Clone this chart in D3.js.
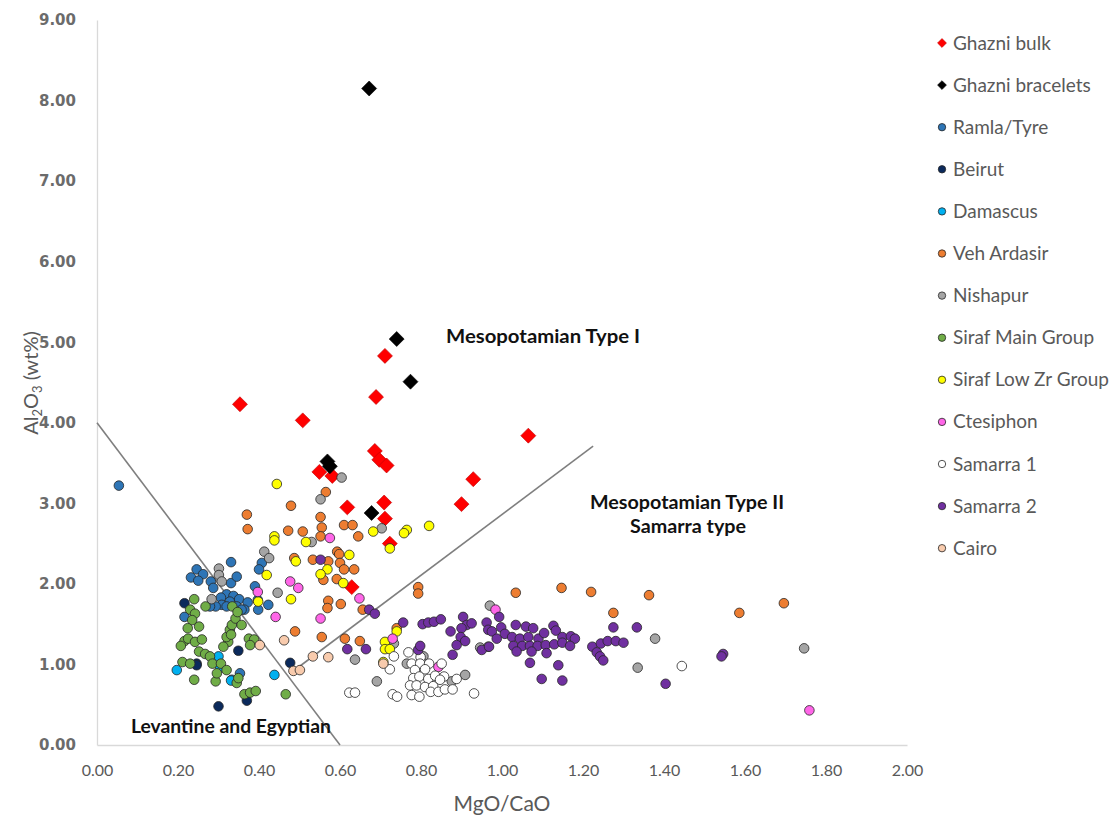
<!DOCTYPE html>
<html>
<head>
<meta charset="utf-8">
<script src="https://cdn.jsdelivr.net/npm/d3@7"></script>
<style>
  html, body { margin: 0; padding: 0; background: #fff; }
  svg { display: block; }
</style>
</head>
<body>
<svg id="chart" width="1110" height="816"></svg>
<script>
// ---- data: [MgO/CaO, Al2O3 wt%] ----
const ghazniBulk = [[0.353,4.23],[0.508,4.03],[0.549,3.39],[0.581,3.34],[0.618,2.95],[0.629,1.96],[0.686,3.65],[0.689,4.32],[0.697,3.54],[0.709,3.01],[0.711,4.83],[0.711,2.81],[0.715,3.47],[0.723,2.50],[0.900,2.99],[0.929,3.30],[1.065,3.84]];
const ghazniBracelets = [[0.672,8.15],[0.740,5.04],[0.774,4.51],[0.569,3.52],[0.575,3.46],[0.678,2.88]];
const ramlaTyre = [[0.054,3.22],[0.331,2.27],[0.246,2.18],[0.262,2.12],[0.232,2.08],[0.250,2.04],[0.281,2.03],[0.287,1.95],[0.331,2.01],[0.345,2.09],[0.407,2.26],[0.400,2.18],[0.390,1.97],[0.320,1.87],[0.306,1.83],[0.337,1.85],[0.351,1.81],[0.372,1.77],[0.364,1.68],[0.328,1.78],[0.308,1.74],[0.293,1.72],[0.279,1.72],[0.320,1.72],[0.345,1.72],[0.357,1.68],[0.398,1.68],[0.423,1.74],[0.397,1.80],[0.216,1.59],[0.353,0.89],[0.333,0.81]];
const beirut = [[0.216,1.76],[0.349,1.17],[0.246,1.01],[0.246,0.99],[0.477,1.02],[0.300,0.48],[0.370,0.55]];
const damascus = [[0.197,0.93],[0.300,1.10],[0.304,0.97],[0.331,0.80],[0.438,0.87]];
const vehArdasir = [[0.370,2.86],[0.372,2.68],[0.472,2.66],[0.487,2.32],[0.489,1.41],[0.479,2.97],[0.565,3.14],[0.552,2.83],[0.610,2.73],[0.631,2.73],[0.555,2.70],[0.508,2.65],[0.552,2.59],[0.645,2.59],[0.593,2.40],[0.598,2.37],[0.533,2.30],[0.571,2.28],[0.600,2.26],[0.635,2.18],[0.610,2.18],[0.559,2.05],[0.592,2.06],[0.793,1.96],[0.793,1.88],[0.571,1.79],[0.569,1.70],[0.602,1.75],[0.656,1.68],[0.555,1.34],[0.612,1.32],[0.649,1.29],[0.740,1.45],[1.034,1.89],[1.147,1.95],[1.220,1.90],[1.363,1.86],[1.275,1.64],[1.586,1.64],[1.696,1.76]];
const nishapur = [[0.413,2.40],[0.425,2.32],[0.301,2.19],[0.301,2.11],[0.308,2.03],[0.283,1.81],[0.446,1.89],[0.604,3.32],[0.552,3.05],[0.703,2.69],[0.530,2.52],[0.637,1.06],[0.733,1.26],[0.765,1.01],[0.806,1.10],[0.876,0.79],[0.909,0.87],[0.946,1.21],[0.966,1.22],[0.807,1.01],[0.691,0.79],[0.970,1.73],[1.378,1.32],[1.335,0.96],[1.746,1.20]];
const sirafMain = [[0.240,1.81],[0.230,1.68],[0.242,1.63],[0.235,1.55],[0.268,1.72],[0.334,1.72],[0.224,1.45],[0.252,1.47],[0.216,1.29],[0.225,1.32],[0.242,1.28],[0.259,1.31],[0.207,1.23],[0.252,1.16],[0.267,1.13],[0.279,1.10],[0.285,1.01],[0.306,1.01],[0.320,0.93],[0.324,1.28],[0.312,1.22],[0.320,1.34],[0.328,1.43],[0.333,1.49],[0.342,1.57],[0.347,1.65],[0.357,1.49],[0.331,1.37],[0.375,1.32],[0.388,1.31],[0.378,1.24],[0.211,1.03],[0.230,1.01],[0.240,0.81],[0.293,0.79],[0.296,0.89],[0.345,0.77],[0.349,0.83],[0.364,0.63],[0.378,0.65],[0.392,0.67],[0.466,0.63]];
const sirafLowZr = [[0.438,2.59],[0.438,2.54],[0.419,2.11],[0.398,1.78],[0.479,1.81],[0.444,3.24],[0.820,2.72],[0.765,2.67],[0.758,2.63],[0.682,2.65],[0.516,2.52],[0.491,2.28],[0.569,2.18],[0.623,2.36],[0.552,2.12],[0.608,2.01],[0.740,1.41],[0.711,1.28],[0.711,1.19],[0.723,1.19],[0.707,1.03],[0.723,2.44]];
const ctesiphon = [[0.397,1.90],[0.477,2.03],[0.441,1.59],[0.575,2.57],[0.497,1.95],[0.648,1.82],[0.552,1.57],[0.730,1.32],[0.843,0.97],[0.984,1.68],[1.759,0.43]];
const samarra1 = [[0.733,1.10],[0.769,1.15],[0.799,1.09],[0.777,1.01],[0.798,1.01],[0.820,1.01],[0.851,1.01],[0.723,0.94],[0.785,0.93],[0.810,0.94],[0.781,0.83],[0.796,0.85],[0.818,0.82],[0.835,0.86],[0.857,0.85],[0.847,0.81],[0.888,0.82],[0.773,0.74],[0.789,0.74],[0.810,0.72],[0.830,0.73],[0.824,0.66],[0.843,0.66],[0.859,0.69],[0.878,0.69],[0.777,0.62],[0.796,0.60],[0.730,0.63],[0.741,0.60],[0.931,0.64],[0.623,0.65],[0.637,0.65],[1.444,0.98]];
const samarra2 = [[0.552,2.30],[0.672,1.68],[0.686,1.63],[0.756,1.52],[0.804,1.50],[0.818,1.52],[0.832,1.53],[0.849,1.56],[0.873,1.41],[0.904,1.59],[0.913,1.49],[0.925,1.51],[0.900,1.45],[0.898,1.34],[0.909,1.29],[0.888,1.24],[0.950,1.18],[0.962,1.52],[0.966,1.43],[0.618,1.19],[0.664,1.19],[0.793,1.18],[0.798,1.23],[0.878,1.12],[0.993,1.59],[0.998,1.46],[1.034,1.49],[0.975,1.41],[1.007,1.38],[0.987,1.32],[0.968,1.22],[1.025,1.34],[1.044,1.32],[1.059,1.47],[1.077,1.45],[1.065,1.34],[1.090,1.32],[1.104,1.39],[1.127,1.48],[1.133,1.42],[1.149,1.34],[1.170,1.35],[1.180,1.32],[1.028,1.23],[1.050,1.23],[1.069,1.23],[1.088,1.23],[1.108,1.24],[1.129,1.25],[1.149,1.27],[1.168,1.23],[1.036,1.16],[1.073,1.16],[1.110,1.14],[1.069,1.02],[1.139,0.99],[1.098,0.82],[1.149,0.80],[1.223,1.22],[1.234,1.15],[1.242,1.10],[1.250,1.05],[1.244,1.26],[1.261,1.29],[1.281,1.29],[1.300,1.27],[1.275,1.46],[1.333,1.46],[1.404,0.76],[1.546,1.13],[1.542,1.10]];
const cairo = [[0.402,1.24],[0.462,1.30],[0.485,0.92],[0.501,0.93],[0.533,1.10],[0.571,1.09],[0.707,1.01]];

// field boundary lines
const boundaryLevantine = [[0.0,4.0],[0.6,0.0]];
const boundarySamarra = [[0.48,0.90],[1.225,3.71]];

const xTicks = [0,0.2,0.4,0.6,0.8,1.0,1.2,1.4,1.6,1.8,2.0];
const yTicks = [0,1,2,3,4,5,6,7,8,9];

const seriesNames = ["Ghazni bulk","Ghazni bracelets","Ramla/Tyre","Beirut","Damascus","Veh Ardasir","Nishapur","Siraf Main Group","Siraf Low Zr Group","Ctesiphon","Samarra 1","Samarra 2","Cairo"];
const seriesData = [ghazniBulk,ghazniBracelets,ramlaTyre,beirut,damascus,vehArdasir,nishapur,sirafMain,sirafLowZr,ctesiphon,samarra1,samarra2,cairo];
const seriesColors = ["#FF0000","#000000","#2E75B6","#0B2A5C","#00B0F0","#ED7D31","#A5A5A5","#70AD47","#FFFF00","#FF66E8","#FFFFFF","#7030A0","#F8CBAD"];
const seriesShapes = ["diamond","diamond","circle","circle","circle","circle","circle","circle","circle","circle","circle","circle","circle"];

const svg = d3.select("#chart");
const x = d3.scaleLinear().domain([0, 2]).range([97, 907]);
const y = d3.scaleLinear().domain([0, 9]).range([745, 20]);

// axes
const gx = svg.append("g").attr("transform", `translate(0,${y(0)})`)
  .call(d3.axisBottom(x).tickValues(xTicks).tickSize(0).tickPadding(20).tickFormat(d3.format(".2f")));
gx.select(".domain").attr("stroke", "#d9d9d9").attr("stroke-width", 1.3);
gx.selectAll("text").attr("font-family", "Lato, 'Open Sans', sans-serif").attr("font-size", 16).attr("fill", "#595959");

const gy = svg.append("g").attr("transform", `translate(${x(0)},0)`)
  .call(d3.axisLeft(y).tickValues(yTicks).tickSize(0).tickPadding(21).tickFormat(d3.format(".2f")));
gy.select(".domain").attr("stroke", "#d9d9d9").attr("stroke-width", 1.3);
gy.selectAll("text").attr("font-family", "'DejaVu Sans', Verdana, sans-serif").attr("font-weight", "bold")
  .attr("font-size", 15).attr("fill", "#6b6b6b");

// axis titles
svg.append("text").attr("x", 502).attr("y", 811).attr("text-anchor", "middle")
  .attr("font-family", "Lato, sans-serif").attr("font-size", 21).attr("fill", "#595959").text("MgO/CaO");

const yt = svg.append("text").attr("transform", "translate(38,383) rotate(-90)").attr("text-anchor", "middle")
  .attr("font-family", "Lato, sans-serif").attr("font-size", 20).attr("fill", "#595959");
yt.append("tspan").text("Al");
yt.append("tspan").attr("font-size", 13).attr("dy", 4).text("2");
yt.append("tspan").attr("dy", -4).text("O");
yt.append("tspan").attr("font-size", 13).attr("dy", 4).text("3");
yt.append("tspan").attr("dy", -4).text(" (wt%)");

// boundary lines
const line = d3.line().x(d => x(d[0])).y(d => y(d[1]));
[boundaryLevantine, boundarySamarra].forEach(b => {
  svg.append("path").attr("d", line(b)).attr("fill", "none").attr("stroke", "#7f7f7f").attr("stroke-width", 1.6);
});

// markers
const diamond = d3.symbol().type(d3.symbolSquare).size(112);
seriesData.forEach((data, i) => {
  const g = svg.append("g");
  if (seriesShapes[i] === "diamond") {
    g.selectAll("path").data(data).join("path")
      .attr("d", diamond)
      .attr("transform", d => `translate(${x(d[0])},${y(d[1])}) rotate(45)`)
      .attr("fill", seriesColors[i])
      .attr("stroke", i === 0 ? "#c00000" : "#000")
      .attr("stroke-width", 0.6);
  } else {
    g.selectAll("circle").data(data).join("circle")
      .attr("cx", d => x(d[0])).attr("cy", d => y(d[1])).attr("r", 4.8)
      .attr("fill", seriesColors[i]).attr("stroke", "#262626").attr("stroke-width", 0.8);
  }
});

// annotations
const ann = [
  {t: "Mesopotamian Type I", x: 446, y: 343, w: 194},
  {t: "Mesopotamian Type II", x: 590, y: 509, w: 194},
  {t: "Samarra type", x: 630, y: 533, w: 116},
  {t: "Levantine and Egyptian", x: 131, y: 733, w: 200}
];
svg.append("g").selectAll("text").data(ann).join("text")
  .attr("x", d => d.x).attr("y", d => d.y)
  .attr("textLength", d => d.w).attr("lengthAdjust", "spacingAndGlyphs")
  .attr("font-family", "Lato, 'Open Sans', sans-serif").attr("font-weight", "bold")
  .attr("font-size", 18.5).attr("fill", "#111").text(d => d.t);

// legend
const legend = svg.append("g");
seriesNames.forEach((name, i) => {
  const ly = 43 + i * 42.1;
  if (seriesShapes[i] === "diamond") {
    legend.append("path").attr("d", d3.symbol().type(d3.symbolSquare).size(40)())
      .attr("transform", `translate(942,${ly}) rotate(45)`)
      .attr("fill", seriesColors[i]).attr("stroke", i === 0 ? "#c00000" : "#000").attr("stroke-width", 0.5);
  } else {
    legend.append("circle").attr("cx", 942).attr("cy", ly).attr("r", 3.7)
      .attr("fill", seriesColors[i]).attr("stroke", "#262626").attr("stroke-width", 0.8);
  }
  legend.append("text").attr("x", 953).attr("y", ly + 6.5)
    .attr("font-family", "Lato, 'Open Sans', sans-serif").attr("font-size", 19).attr("fill", "#595959").text(name);
});
</script>
</body>
</html>
